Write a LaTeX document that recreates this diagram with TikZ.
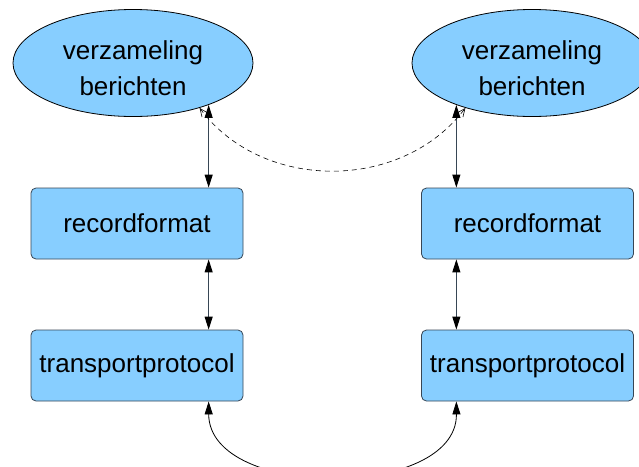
\documentclass[tikz,border=0pt]{standalone}
\usepackage{fontspec}
\setmainfont{Liberation Sans}
\usetikzlibrary{arrows.meta,shapes.geometric}

\definecolor{boxfill}{RGB}{135,206,255}
\definecolor{edge}{RGB}{55,70,85}

\tikzset{
  layer/.style={draw=edge, fill=boxfill, rounded corners=5pt, line width=0.8pt,
    minimum width=212pt, minimum height=71pt, inner sep=0pt,
    font=\fontsize{26}{36}\selectfont},
  store/.style={draw=black, fill=boxfill, ellipse, line width=0.8pt,
    minimum width=240pt, minimum height=107pt, inner sep=0pt, align=center,
    font=\fontsize{26}{36}\selectfont},
  tip/.style={Triangle[length=13pt,width=8pt,color=black]},
  link/.style={draw=edge, line width=1pt, {Triangle[length=13pt,width=8pt,color=black]}-{Triangle[length=13pt,width=8pt,color=black]}},
  peer/.style={draw=black, line width=0.6pt, dash pattern=on 5pt off 4pt,
    {Straight Barb[length=8pt,width=7pt]}-{Straight Barb[length=8pt,width=7pt]}},
  wire/.style={draw=black, line width=0.8pt,
    {Triangle[length=13pt,width=8pt]}-{Triangle[length=13pt,width=8pt]}}
}
\newcommand{\toppad}{\rule{0pt}{29pt}}

\begin{document}
\begin{tikzpicture}[x=1pt,y=-1pt]
  \clip (0,0) rectangle (639,466);
  \fill[white] (0,0) rectangle (639,466);

  % sender stack
  \node[store] (msgA) at (133,63) {\toppad verzameling\\berichten};
  \node[layer] (recA) at (137,223.5) {recordformat};
  \node[layer] (traA) at (137,365.5) {transportprotocol};

  % receiver stack
  \node[store] (msgB) at (532,63) {\toppad verzameling\\berichten};
  \node[layer] (recB) at (527.5,223.5) {recordformat};
  \node[layer] (traB) at (527.5,365.5) {transportprotocol};

  % vertical links within each stack
  \path[link] (msgA.331) -- (recA.north -| msgA.331);
  \path[link] (recA.south -| msgA.331) -- (traA.north -| msgA.331);
  \path[link] (msgB.209) -- (recB.north -| msgB.209);
  \path[link] (recB.south -| msgB.209) -- (traB.north -| msgB.209);

  % logical exchange between the message stores
  \path[peer] (msgA.326) .. controls (262,192) and (402,192) .. (msgB.214);

  % physical connection below the transport layers
  \path[wire] (traA.south -| msgA.331) .. controls (209,500) and (457,500) .. (traB.south -| msgB.209);
\end{tikzpicture}
\end{document}
